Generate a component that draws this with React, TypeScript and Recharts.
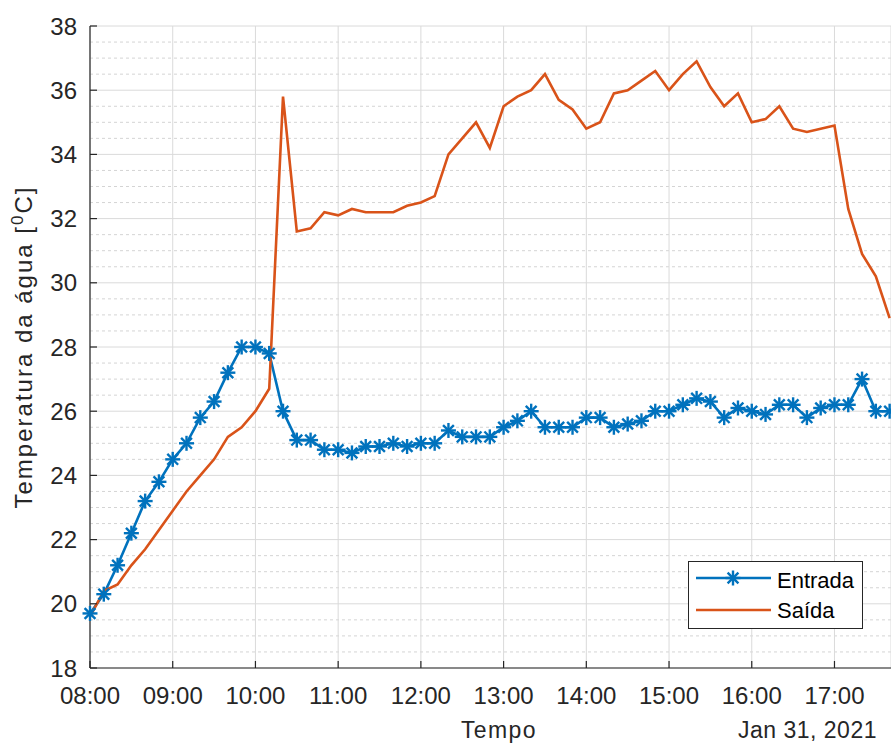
import React from 'react';
import { LineChart, Line, XAxis, YAxis, CartesianGrid } from 'recharts';

// leituras a cada 10 min, 31 jan 2021
const TIMES = [
  '08:00', '08:10', '08:20', '08:30', '08:40', '08:50',
  '09:00', '09:10', '09:20', '09:30', '09:40', '09:50',
  '10:00', '10:10', '10:20', '10:30', '10:40', '10:50',
  '11:00', '11:10', '11:20', '11:30', '11:40', '11:50',
  '12:00', '12:10', '12:20', '12:30', '12:40', '12:50',
  '13:00', '13:10', '13:20', '13:30', '13:40', '13:50',
  '14:00', '14:10', '14:20', '14:30', '14:40', '14:50',
  '15:00', '15:10', '15:20', '15:30', '15:40', '15:50',
  '16:00', '16:10', '16:20', '16:30', '16:40', '16:50',
  '17:00', '17:10', '17:20', '17:30', '17:40',
];

const ENTRADA = [
  19.7, 20.3, 21.2, 22.2, 23.2, 23.8, 24.5, 25.0, 25.8, 26.3, 27.2, 28.0,
  28.0, 27.8, 26.0, 25.1, 25.1, 24.8, 24.8, 24.7, 24.9, 24.9, 25.0, 24.9,
  25.0, 25.0, 25.4, 25.2, 25.2, 25.2, 25.5, 25.7, 26.0, 25.5, 25.5, 25.5,
  25.8, 25.8, 25.5, 25.6, 25.7, 26.0, 26.0, 26.2, 26.4, 26.3, 25.8, 26.1,
  26.0, 25.9, 26.2, 26.2, 25.8, 26.1, 26.2, 26.2, 27.0, 26.0, 26.0,
];

const SAIDA = [
  19.6, 20.4, 20.6, 21.2, 21.7, 22.3, 22.9, 23.5, 24.0, 24.5, 25.2, 25.5,
  26.0, 26.7, 35.8, 31.6, 31.7, 32.2, 32.1, 32.3, 32.2, 32.2, 32.2, 32.4,
  32.5, 32.7, 34.0, 34.5, 35.0, 34.2, 35.5, 35.8, 36.0, 36.5, 35.7, 35.4,
  34.8, 35.0, 35.9, 36.0, 36.3, 36.6, 36.0, 36.5, 36.9, 36.1, 35.5, 35.9,
  35.0, 35.1, 35.5, 34.8, 34.7, 34.8, 34.9, 32.3, 30.9, 30.2, 28.9,
];

const HOUR_TICKS = ['08:00', '09:00', '10:00', '11:00', '12:00', '13:00', '14:00', '15:00', '16:00', '17:00'];
const Y_TICKS = [18, 20, 22, 24, 26, 28, 30, 32, 34, 36, 38];
const Y_MINOR = [
  18.5, 19, 19.5, 20.5, 21, 21.5, 22.5, 23, 23.5, 24.5, 25, 25.5, 26.5, 27, 27.5,
  28.5, 29, 29.5, 30.5, 31, 31.5, 32.5, 33, 33.5, 34.5, 35, 35.5, 36.5, 37, 37.5,
];

const BLUE = '#0072BD';
const ORANGE = '#D95319';
const AXIS = '#262626';
const FONT = '"Liberation Sans", Arial, Helvetica, sans-serif';

const toMin = (t: string) => {
  const [h, m] = t.split(':').map(Number);
  return (h - 8) * 60 + m;
};
const fmtTick = (v: number) => `${String(8 + Math.floor(v / 60)).padStart(2, '0')}:00`;

const rows = TIMES.map((t, i) => ({ t: toMin(t), entrada: ENTRADA[i], saida: SAIDA[i] }));
const xTicks = HOUR_TICKS.map(toMin);

const Asterisk = ({ cx, cy, r = 7.5, color }: { cx: number; cy: number; r?: number; color: string }) => {
  const d = r * 0.72;
  return (
    <g stroke={color} strokeWidth={2.4} fill="none">
      <line x1={cx - r} y1={cy} x2={cx + r} y2={cy} />
      <line x1={cx} y1={cy - r} x2={cx} y2={cy + r} />
      <line x1={cx - d} y1={cy - d} x2={cx + d} y2={cy + d} />
      <line x1={cx - d} y1={cy + d} x2={cx + d} y2={cy - d} />
    </g>
  );
};

export default function App() {
  return (
    <div style={{ position: 'fixed', left: 0, top: 0, width: 891, height: 744, overflow: 'hidden', background: '#fff' }}>
      <LineChart width={891} height={744} data={rows} margin={{ top: 26, right: 0, bottom: 36, left: 0 }}>
        <CartesianGrid horizontalValues={Y_MINOR} vertical={false} stroke="#d4d4d4" strokeDasharray="3 3" />
        <CartesianGrid stroke="#dadada" strokeWidth={1} />
        <XAxis
          dataKey="t"
          type="number"
          domain={[0, 581]}
          ticks={xTicks}
          tickFormatter={fmtTick}
          height={40}
          tickSize={-7}
          tickMargin={26}
          axisLine={{ stroke: AXIS, strokeWidth: 1.2 }}
          tickLine={{ stroke: AXIS, strokeWidth: 1.2 }}
          tick={{ fill: AXIS, fontSize: 24, fontFamily: FONT }}
          interval={0}
        />
        <XAxis
          xAxisId="top"
          orientation="top"
          dataKey="t"
          type="number"
          domain={[0, 581]}
          ticks={xTicks}
          height={0}
          tickSize={-7}
          tick={false}
          axisLine={{ stroke: AXIS, strokeWidth: 1.2 }}
          tickLine={{ stroke: AXIS, strokeWidth: 1.2 }}
        />
        <YAxis
          type="number"
          domain={[18, 38]}
          ticks={Y_TICKS}
          width={90}
          tickSize={-7}
          tickMargin={20}
          axisLine={{ stroke: AXIS, strokeWidth: 1.2 }}
          tickLine={{ stroke: AXIS, strokeWidth: 1.2 }}
          tick={{ fill: AXIS, fontSize: 24, fontFamily: FONT }}
          interval={0}
        />
        <Line
          dataKey="entrada"
          stroke={BLUE}
          strokeWidth={2.6}
          isAnimationActive={false}
          dot={(p: any) => <Asterisk key={`e-${p.index}`} cx={p.cx} cy={p.cy} color={BLUE} />}
          activeDot={false}
        />
        <Line
          dataKey="saida"
          stroke={ORANGE}
          strokeWidth={2.6}
          isAnimationActive={false}
          dot={false}
          activeDot={false}
        />
      </LineChart>

      <svg width={891} height={744} style={{ position: 'absolute', left: 0, top: 0, pointerEvents: 'none' }}>
        <text
          x={32}
          y={347}
          transform="rotate(-90 32 347)"
          textAnchor="middle"
          fontFamily={FONT}
          fontSize={24}
          letterSpacing={2}
          fill={AXIS}
        >
          Temperatura da água [<tspan fontSize={17} dy={-9}>0</tspan>
          <tspan dy={9}>C]</tspan>
        </text>
        <text x={499} y={738} textAnchor="middle" fontFamily={FONT} fontSize={23} letterSpacing={1.4} fill={AXIS}>
          Tempo
        </text>
        <text x={877} y={738} textAnchor="end" fontFamily={FONT} fontSize={23} letterSpacing={0.5} fill={AXIS}>
          Jan 31, 2021
        </text>

        <rect x={688.5} y={561.5} width={174} height={67} fill="#fff" stroke={AXIS} strokeWidth={1} />
        <line x1={696} y1={578} x2={771} y2={578} stroke={BLUE} strokeWidth={2.6} />
        <Asterisk cx={733} cy={578} color={BLUE} />
        <text x={777} y={588} fontFamily={FONT} fontSize={22} fill="#000">Entrada</text>
        <line x1={696} y1={610} x2={771} y2={610} stroke={ORANGE} strokeWidth={2.6} />
        <text x={777} y={618} fontFamily={FONT} fontSize={22} fill="#000">Saída</text>
      </svg>
    </div>
  );
}
